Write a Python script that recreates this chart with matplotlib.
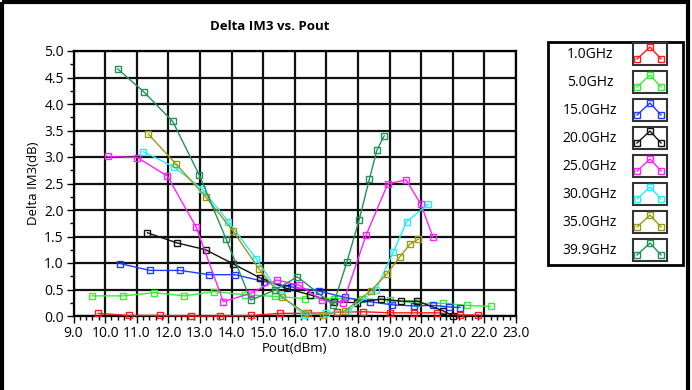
import matplotlib.pyplot as plt
from matplotlib.patches import Rectangle
from matplotlib.ticker import MultipleLocator

# Delta IM3 vs output power, one sweep per frequency
labels = ['1.0GHz', '5.0GHz', '15.0GHz', '20.0GHz', '25.0GHz', '30.0GHz', '35.0GHz', '39.9GHz']
colors = ['#ff1a1a', '#33ee33', '#1f3dff', '#111111', '#ff22ff', '#22eeff', '#9a9a10', '#23925a']

pout_1g = [9.78, 10.76, 11.74, 12.72, 13.64, 14.62, 15.54, 16.42, 17.34, 18.16, 19.02, 19.78, 20.51, 21.24, 21.81]
dim3_1g = [0.05, 0.01, 0.01, 0.00, 0.00, 0.01, 0.05, 0.05, 0.07, 0.08, 0.06, 0.06, 0.06, 0.02, 0.02]

pout_5g = [9.58, 10.58, 11.56, 12.50, 13.45, 14.43, 15.38, 16.31, 17.25, 18.13, 19.02, 19.87, 20.69, 21.45, 22.20]
dim3_5g = [0.38, 0.38, 0.44, 0.38, 0.46, 0.40, 0.37, 0.33, 0.33, 0.32, 0.30, 0.24, 0.24, 0.20, 0.18]

pout_15g = [10.47, 11.42, 12.37, 13.30, 14.11, 15.03, 15.88, 16.77, 17.59, 18.37, 19.09, 19.76, 20.38, 20.89, 21.23]
dim3_15g = [0.99, 0.86, 0.86, 0.78, 0.78, 0.65, 0.55, 0.47, 0.35, 0.27, 0.21, 0.19, 0.20, 0.17, 0.16]

pout_20g = [11.34, 12.27, 13.18, 14.06, 14.90, 15.74, 16.48, 17.24, 17.97, 18.73, 19.36, 19.88, 20.69, 21.01]
dim3_20g = [1.57, 1.38, 1.25, 0.98, 0.72, 0.52, 0.40, 0.27, 0.25, 0.32, 0.28, 0.28, 0.10, 0.00]

pout_25g = [10.08, 11.02, 11.97, 12.88, 13.74, 14.61, 15.43, 16.15, 16.85, 17.53, 18.26, 18.94, 19.52, 19.99, 20.37]
dim3_25g = [3.01, 2.99, 2.64, 1.68, 0.27, 0.43, 0.68, 0.58, 0.30, 0.25, 1.53, 2.49, 2.57, 2.11, 1.49]

pout_30g = [11.21, 12.19, 13.06, 13.90, 14.78, 15.55, 16.30, 17.00, 17.70, 18.57, 19.12, 19.54, 20.23]
dim3_30g = [3.10, 2.81, 2.40, 1.78, 1.08, 0.40, 0.02, 0.05, 0.10, 0.50, 1.21, 1.78, 2.11]

pout_35g = [11.37, 12.24, 13.18, 14.04, 14.88, 15.60, 16.33, 16.90, 17.60, 18.41, 18.91, 19.33, 19.65, 19.91]
dim3_35g = [3.43, 2.87, 2.25, 1.61, 0.88, 0.35, 0.06, 0.02, 0.10, 0.48, 0.79, 1.12, 1.36, 1.45]

pout_40g = [10.40, 11.24, 12.14, 12.98, 13.83, 14.61, 15.38, 16.08, 17.22, 17.65, 18.04, 18.36, 18.60, 18.83]
dim3_40g = [4.66, 4.22, 3.67, 2.66, 1.45, 0.30, 0.49, 0.74, 0.21, 1.02, 1.82, 2.58, 3.13, 3.40]

series = [(pout_1g, dim3_1g), (pout_5g, dim3_5g), (pout_15g, dim3_15g), (pout_20g, dim3_20g),
          (pout_25g, dim3_25g), (pout_30g, dim3_30g), (pout_35g, dim3_35g), (pout_40g, dim3_40g)]

plt.rcParams['font.family'] = ['Open Sans', 'DejaVu Sans']

fig = plt.figure(figsize=(6.92, 3.90), dpi=100)
ax = fig.add_axes([73.5 / 692, 1 - 316 / 390, (516 - 73.5) / 692, (316 - 51) / 390])

for (x, y), c in zip(series, colors):
    ax.plot(x, y, color=c, linewidth=1.0, marker='s', markersize=5,
            markerfacecolor='none', markeredgecolor=c, markeredgewidth=1.0, clip_on=False, zorder=3)

ax.set_xlim(9, 23)
ax.set_ylim(0, 5)
ax.xaxis.set_major_locator(MultipleLocator(1.0))
ax.xaxis.set_minor_locator(MultipleLocator(0.2))
ax.yaxis.set_major_locator(MultipleLocator(0.5))
ax.yaxis.set_minor_locator(MultipleLocator(0.25))
ax.set_xticklabels([f'{v:.1f}' for v in ax.get_xticks()])
ax.set_yticklabels([f'{v:.1f}' for v in ax.get_yticks()])
ax.tick_params(which='major', direction='out', length=5, width=1, labelsize=10, pad=2)
ax.tick_params(which='minor', direction='out', length=3, width=1)
ax.grid(True, which='major', color='#111111', linewidth=1.6, zorder=1)
for s in ax.spines.values():
    s.set_linewidth(1.6)
ax.set_xlim(9, 23)
ax.set_ylim(0, 5)

ax.set_xlabel('Pout(dBm)', fontsize=9.5, labelpad=1)
ax.set_ylabel('Delta IM3(dB)', fontsize=9.5, labelpad=3)
fig.text(270 / 692, 1 - 26 / 390, 'Delta IM3 vs. Pout', ha='center', va='center',
         fontsize=9.5, fontweight='bold')

# overlay in pixel coordinates for the frame and the legend panel
ov = fig.add_axes([0, 0, 1, 1], zorder=5)
ov.set_xlim(0, 692)
ov.set_ylim(390, 0)
ov.axis('off')
ov.add_patch(Rectangle((2, 2), 686, 400, fill=False, edgecolor='black', linewidth=3))
ov.add_patch(Rectangle((548, 42), 135, 223, fill=False, edgecolor='black', linewidth=2))

for i, (lab, c) in enumerate(zip(labels, colors)):
    yc = 54 + i * 28
    ov.text(590, yc, lab, ha='center', va='center', fontsize=10)
    ov.add_patch(Rectangle((633, yc - 11), 34, 22, fill=False, edgecolor='#333333', linewidth=1.5))
    ov.plot([637, 650, 661], [yc + 5, yc - 7, yc + 5], color=c, linewidth=1.0,
            marker='s', markersize=4, markerfacecolor='none', markeredgecolor=c, markeredgewidth=1.0)

fig.savefig('out.png', dpi=100)
